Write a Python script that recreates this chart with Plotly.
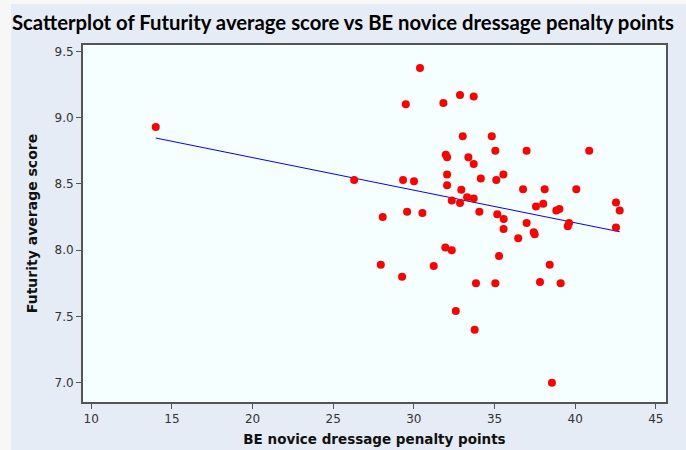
import numpy as np
import plotly.graph_objects as go

penalty = [14.0, 26.3, 27.95, 28.07, 29.27, 29.33, 29.5, 29.58, 30.01, 30.38,
           30.53, 31.23, 31.83, 31.95, 31.98, 32.06, 32.06, 32.06, 32.35, 32.35,
           32.6, 32.86, 32.86, 32.94, 33.03, 33.3, 33.38, 33.71, 33.71, 33.71,
           33.77, 33.85, 34.06, 34.15, 34.83, 35.05, 35.05, 35.11, 35.17, 35.28,
           35.55, 35.57, 35.56, 36.47, 36.77, 36.99, 36.99, 37.43, 37.49, 37.57,
           37.82, 38.02, 38.11, 38.42, 38.56, 38.83, 39.02, 39.1, 39.54, 39.62,
           40.07, 40.87, 42.53, 42.76, 42.53]
score = [8.93, 8.53, 7.89, 8.25, 7.80, 8.53, 9.10, 8.29, 8.52, 9.375,
         8.28, 7.88, 9.11, 8.02, 8.72, 8.70, 8.57, 8.49, 8.375, 8.00,
         7.54, 9.17, 8.355, 8.455, 8.86, 8.40, 8.70, 9.16, 8.65, 8.39,
         7.40, 7.75, 8.29, 8.54, 8.86, 8.75, 7.75, 8.53, 8.27, 7.955,
         8.57, 8.235, 8.16, 8.09, 8.46, 8.75, 8.205, 8.135, 8.12, 8.33,
         7.76, 8.35, 8.46, 7.89, 7.00, 8.30, 8.31, 7.75, 8.18, 8.205,
         8.46, 8.75, 8.36, 8.30, 8.17]

x_ticks = [10, 15, 20, 25, 30, 35, 40, 45]
y_ticks = [7.0, 7.5, 8.0, 8.5, 9.0, 9.5]

slope, intercept = np.polyfit(penalty, score, 1)
fit_x = [min(penalty), max(penalty)]
fit_y = [intercept + slope * v for v in fit_x]

fig = go.Figure()
fig.add_trace(go.Scatter(x=fit_x, y=fit_y, mode="lines",
                         line=dict(color="#0000ff", width=1), hoverinfo="skip"))
fig.add_trace(go.Scatter(x=penalty, y=score, mode="markers",
                         marker=dict(color="#ff0000", size=8, line=dict(width=0))))

axis_common = dict(showline=True, linecolor="#555555", linewidth=2, mirror=True,
                   ticks="outside", ticklen=5, tickcolor="#555555", showgrid=False,
                   zeroline=False, automargin=False,
                   tickfont=dict(family="DejaVu Sans", size=12, color="#333333"))

fig.update_layout(
    width=686, height=450,
    margin=dict(l=83, r=20, t=45, b=48),
    paper_bgcolor="#e6ecf5",
    plot_bgcolor="#f5ffff",
    showlegend=False,
    title=dict(text="<b>Scatterplot of Futurity average score vs BE novice dressage penalty points</b>",
               x=0.0175, xref="container", xanchor="left",
               font=dict(family="Lato", size=20.3, color="#000000"),
               y=0.95, yanchor="middle"),
    xaxis=dict(range=[9.49, 45.63], tickvals=x_ticks,
               title=dict(text="<b>BE novice dressage penalty points</b>", standoff=9,
                          font=dict(family="DejaVu Sans", size=13.5, color="#111111")),
               **axis_common),
    yaxis=dict(range=[6.854, 9.548], tickvals=y_ticks, tickformat=".1f",
               title=dict(text="<b>Futurity average score</b>", standoff=14,
                          font=dict(family="DejaVu Sans", size=14, color="#111111")),
               **axis_common),
)
fig.add_shape(type="rect", xref="paper", yref="paper", x0=-0.15, x1=-0.1235, y0=-0.2, y1=1.2,
              fillcolor="#f7f7f7", line=dict(width=0), layer="above")
fig.add_shape(type="rect", xref="paper", yref="paper", x0=-0.15, x1=1.1, y0=1.1148, y1=1.2,
              fillcolor="#f7f7f7", line=dict(width=0), layer="above")

fig.write_html("out.html", config={"displayModeBar": False},
               post_script="document.body.style.margin='0';document.documentElement.style.margin='0';")
